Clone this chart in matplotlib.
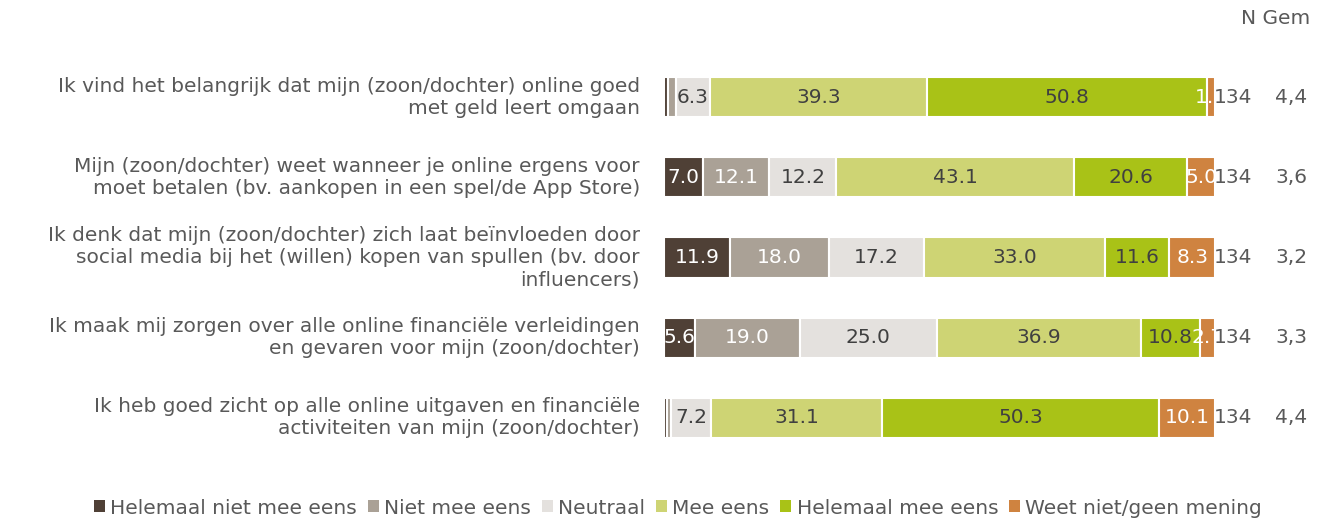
import numpy as np
import matplotlib.pyplot as plt
from matplotlib.patches import Patch

statements = [
    "Ik vind het belangrijk dat mijn (zoon/dochter) online goed\nmet geld leert omgaan",
    "Mijn (zoon/dochter) weet wanneer je online ergens voor\nmoet betalen (bv. aankopen in een spel/de App Store)",
    "Ik denk dat mijn (zoon/dochter) zich laat beïnvloeden door\nsocial media bij het (willen) kopen van spullen (bv. door\ninfluencers)",
    "Ik maak mij zorgen over alle online financiële verleidingen\nen gevaren voor mijn (zoon/dochter)",
    "Ik heb goed zicht op alle online uitgaven en financiële\nactiviteiten van mijn (zoon/dochter)",
]
categories = ["Helemaal niet mee eens", "Niet mee eens", "Neutraal", "Mee eens",
              "Helemaal mee eens", "Weet niet/geen mening"]
helemaal_niet = [0.7, 7.0, 11.9, 5.6, 0.6]
niet = [1.4, 12.1, 18.0, 19.0, 0.7]
neutraal = [6.3, 12.2, 17.2, 25.0, 7.2]
mee_eens = [39.3, 43.1, 33.0, 36.9, 31.1]
helemaal_mee = [50.8, 20.6, 11.6, 10.8, 50.3]
weet_niet = [1.5, 5.0, 8.3, 2.7, 10.1]
n_values = [134, 134, 134, 134, 134]
gem_values = ["4,4", "3,6", "3,2", "3,3", "4,4"]

series = [helemaal_niet, niet, neutraal, mee_eens, helemaal_mee, weet_niet]
colors = ["#4f4036", "#aaa196", "#e4e1de", "#ced474", "#a9c217", "#cf8340"]
label_colors = ["white", "white", "#404040", "#404040", "#404040", "white"]
grey = "#595959"
fs = 14.5

fig = plt.figure(figsize=(13.29, 5.24), dpi=100)
ax = fig.add_axes([664 / 1329, 66 / 524, 551 / 1329, 401 / 524])

y = np.arange(len(statements))
left = np.zeros(len(statements))
for vals, col, tcol in zip(series, colors, label_colors):
    vals = np.array(vals)
    ax.barh(y, vals, left=left, height=0.5, color=col, edgecolor="white", linewidth=1.5)
    for yi, v, l in zip(y, vals, left):
        # tiny segments stay unlabeled
        if v >= 1.5:
            ax.text(l + v / 2, yi, f"{v:.1f}", ha="center", va="center",
                    fontsize=fs, color=tcol)
    left += vals

ax.set_xlim(0, 100)
ax.set_ylim(4.5, -0.5)
ax.axis("off")

tr = ax.get_yaxis_transform()
for yi, s, n, g in zip(y, statements, n_values, gem_values):
    ax.text(-0.044, yi, s, transform=tr, ha="right", va="center", fontsize=fs,
            color=grey, linespacing=1.2)
    ax.text(1.033, yi, str(n), transform=tr, ha="center", va="center", fontsize=fs, color=grey)
    ax.text(1.138, yi, g, transform=tr, ha="center", va="center", fontsize=fs, color=grey)

fig.text(1310 / 1329, 1 - 18 / 524, "N Gem", ha="right", va="center", fontsize=fs, color=grey)

handles = [Patch(facecolor=c, edgecolor="none") for c in colors]
fig.legend(handles, categories, loc="center", bbox_to_anchor=(678 / 1329, 16 / 524),
           ncol=6, frameon=False, fontsize=fs, handlelength=0.55, handleheight=0.55,
           handletextpad=0.25, columnspacing=0.55, labelcolor=grey)

fig.savefig("out.png", dpi=100)
